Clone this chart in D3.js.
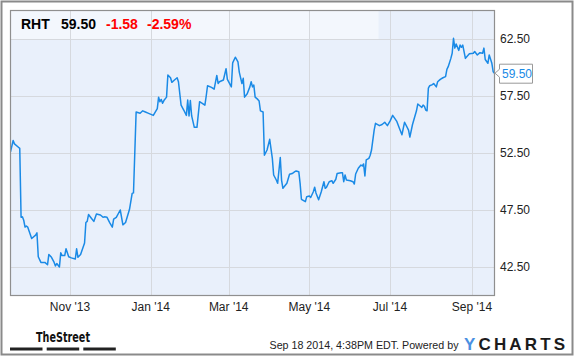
<!DOCTYPE html>
<html><head><meta charset="utf-8">
<script src="https://cdn.jsdelivr.net/npm/d3@7"></script>
<style>html,body{margin:0;padding:0;background:#fff;}svg{display:block;font-family:"Liberation Sans",Arial,sans-serif;}</style>
</head><body>
<script>
const dates = ["2013-09-17","2013-09-19","2013-09-20","2013-09-23","2013-09-24","2013-09-25","2013-09-26","2013-09-27","2013-09-28","2013-09-29","2013-09-30","2013-10-03","2013-10-06","2013-10-07","2013-10-08","2013-10-10","2013-10-13","2013-10-15","2013-10-16","2013-10-18","2013-10-20","2013-10-21","2013-10-22","2013-10-24","2013-10-25","2013-10-26","2013-10-28","2013-10-29","2013-10-31","2013-11-02","2013-11-05","2013-11-06","2013-11-07","2013-11-09","2013-11-12","2013-11-13","2013-11-14","2013-11-15","2013-11-17","2013-11-19","2013-11-21","2013-11-24","2013-11-26","2013-11-27","2013-11-29","2013-12-01","2013-12-03","2013-12-04","2013-12-06","2013-12-09","2013-12-11","2013-12-13","2013-12-16","2013-12-18","2013-12-19","2013-12-21","2013-12-24","2013-12-26","2013-12-28","2013-12-30","2014-01-03","2014-01-04","2014-01-06","2014-01-07","2014-01-08","2014-01-09","2014-01-10","2014-01-11","2014-01-13","2014-01-14","2014-01-16","2014-01-17","2014-01-19","2014-01-21","2014-01-22","2014-01-24","2014-01-26","2014-01-28","2014-01-29","2014-01-30","2014-01-31","2014-02-01","2014-02-03","2014-02-05","2014-02-07","2014-02-09","2014-02-11","2014-02-12","2014-02-13","2014-02-16","2014-02-18","2014-02-20","2014-02-21","2014-02-22","2014-02-25","2014-02-27","2014-02-28","2014-03-03","2014-03-04","2014-03-06","2014-03-08","2014-03-09","2014-03-11","2014-03-12","2014-03-13","2014-03-15","2014-03-17","2014-03-18","2014-03-19","2014-03-20","2014-03-21","2014-03-23","2014-03-24","2014-03-25","2014-03-27","2014-03-28","2014-03-30","2014-04-01","2014-04-03","2014-04-04","2014-04-06","2014-04-07","2014-04-09","2014-04-10","2014-04-11","2014-04-14","2014-04-16","2014-04-18","2014-04-20","2014-04-21","2014-04-23","2014-04-24","2014-04-25","2014-04-27","2014-04-28","2014-04-29","2014-05-01","2014-05-02","2014-05-04","2014-05-05","2014-05-06","2014-05-08","2014-05-10","2014-05-12","2014-05-13","2014-05-14","2014-05-16","2014-05-18","2014-05-19","2014-05-21","2014-05-22","2014-05-25","2014-05-26","2014-05-27","2014-05-28","2014-05-29","2014-06-01","2014-06-03","2014-06-04","2014-06-05","2014-06-07","2014-06-09","2014-06-10","2014-06-11","2014-06-12","2014-06-13","2014-06-15","2014-06-16","2014-06-17","2014-06-19","2014-06-20","2014-06-23","2014-06-25","2014-06-27","2014-06-29","2014-07-01","2014-07-03","2014-07-06","2014-07-08","2014-07-10","2014-07-12","2014-07-15","2014-07-16","2014-07-18","2014-07-21","2014-07-22","2014-07-24","2014-07-25","2014-07-26","2014-07-27","2014-07-28","2014-07-29","2014-07-30","2014-07-31","2014-08-02","2014-08-03","2014-08-05","2014-08-06","2014-08-08","2014-08-10","2014-08-12","2014-08-13","2014-08-14","2014-08-16","2014-08-17","2014-08-18","2014-08-19","2014-08-20","2014-08-22","2014-08-23","2014-08-24","2014-08-25","2014-08-27","2014-08-28","2014-08-30","2014-09-02","2014-09-03","2014-09-05","2014-09-07","2014-09-09","2014-09-10","2014-09-11","2014-09-13","2014-09-14","2014-09-16","2014-09-17","2014-09-18"];
const prices = [52.6,53.6,53.3,53.0,52.9,46.86,46.9,46.6,46.0,46.1,46.0,45.0,45.3,45.5,43.4,42.9,42.9,42.7,43.6,43.35,42.9,42.6,42.8,42.5,43.75,43.5,43.5,44.1,43.4,43.3,43.2,44.1,43.35,43.6,44.6,46.4,46.5,47.1,46.8,46.5,47.15,47.06,46.86,46.9,46.86,46.4,46.0,46.7,46.86,47.5,46.2,46.4,47.56,48.96,49.0,56.1,55.98,56.2,56.1,56.0,55.8,56.0,56.4,57.4,57.0,57.2,56.86,57.1,57.4,59.34,59.1,58.7,58.9,59.1,58.75,56.7,56.27,55.8,57.15,55.75,57.1,55.75,54.75,54.75,57.0,56.86,56.7,57.5,58.4,58.26,58.1,59.3,58.6,58.75,58.9,59.9,58.96,58.3,60.4,60.9,60.5,59.6,58.6,59.05,57.4,57.7,58.3,58.75,58.3,58.46,57.4,57.2,57.06,56.2,56.1,52.3,52.76,53.7,52.03,50.57,50.13,49.84,52.1,50.1,49.4,49.84,50.63,50.7,50.86,50.92,50.86,49.84,48.44,48.3,48.23,48.67,48.73,48.6,49.1,49.5,49.0,48.4,49.1,49.98,49.4,49.5,49.98,50.07,49.84,50.2,50.7,50.77,50.77,49.98,50.57,50.13,50.07,49.98,49.78,50.66,51.16,51.45,51.36,51.54,50.48,51.9,52.03,52.3,52.76,54.5,55.1,54.9,55.0,55.2,54.9,55.3,55.8,55.3,54.7,54.1,55.2,54.5,53.9,55.0,56.2,56.8,56.6,56.5,56.7,56.6,56.27,56.2,58.2,58.4,58.5,58.6,58.3,58.75,58.96,59.1,59.2,59.84,60.07,60.8,61.25,62.56,61.7,62.06,61.5,61.97,61.77,61.97,60.8,60.95,61.2,61.25,61.4,61.1,61.3,61.25,61.7,60.7,60.37,61.1,60.37,59.63,59.5];
const yTicks = [42.5, 47.5, 52.5, 57.5, 62.5];
const xTickDates = ["2013-11-01","2014-01-01","2014-03-01","2014-05-01","2014-07-01","2014-09-01"];
const xTickLabels = ["Nov '13","Jan '14","Mar '14","May '14","Jul '14","Sep '14"];
const ticker = "RHT", lastPrice = "59.50", change = "-1.58", changePct = "-2.59%";
const footerText = "Sep 18 2014, 4:38PM EDT. Powered by";

const W = 575, H = 358;
const parse = d3.timeParse("%Y-%m-%d");
const data = dates.map((d,i)=>({date:parse(d), v:prices[i]}));
const svg = d3.select("body").append("svg").attr("width",W).attr("height",H);

const L = 10.5, R = 494.5, T = 10.5, B = 295.5;
const x = d3.scaleTime().domain([parse("2013-09-17"), parse("2014-09-18")]).range([L, R]);
const y = d3.scaleLinear().domain([40, 65]).range([B, T]);

// outer border
svg.append("rect").attr("x",1.5).attr("y",1.5).attr("width",W-4).attr("height",H-5)
  .attr("fill","#fff").attr("stroke","#8a8a8a").attr("stroke-width",2);

// plot background
svg.append("rect").attr("x",L).attr("y",T).attr("width",R-L).attr("height",B-T).attr("fill","#e9f0fb");
// header band
svg.append("rect").attr("x",L).attr("y",T).attr("width",368).attr("height",y(62.5)-T).attr("fill","#f3f7fd");

// grid
const g = svg.append("g");
g.selectAll(".hg").data(yTicks).join("line")
  .attr("x1",L).attr("x2",R).attr("y1",d=>Math.round(y(d))+0.5).attr("y2",d=>Math.round(y(d))+0.5)
  .attr("stroke","#d6d9de").attr("stroke-width",1);
g.selectAll(".vg").data(xTickDates).join("line")
  .attr("x1",d=>Math.round(x(parse(d)))+0.5).attr("x2",d=>Math.round(x(parse(d)))+0.5).attr("y1",T).attr("y2",B)
  .attr("stroke","#d6d9de").attr("stroke-width",1);

// line
const clip = svg.append("clipPath").attr("id","clip").append("rect").attr("x",L).attr("y",T).attr("width",R-L).attr("height",B-T);
svg.append("path").datum(data).attr("clip-path","url(#clip)")
  .attr("d", d3.line().x(d=>x(d.date)).y(d=>y(d.v)))
  .attr("fill","none").attr("stroke","#1a8ae6").attr("stroke-width",1.5).attr("stroke-linejoin","round");

// plot border
svg.append("rect").attr("x",L).attr("y",T).attr("width",R-L).attr("height",B-T)
  .attr("fill","none").attr("stroke","#8f8f8f").attr("stroke-width",1.2);

// y labels
svg.selectAll(".yl").data(yTicks).join("text")
  .attr("x",500).attr("y",d=>y(d)+4).attr("font-size",12).attr("fill","#222")
  .text(d=>d3.format(".2f")(d));

// x labels
svg.selectAll(".xl").data(xTickDates).join("text")
  .attr("x",d=>x(parse(d))).attr("y",311).attr("text-anchor","middle").attr("font-size",12).attr("fill","#222")
  .text((d,i)=>xTickLabels[i]);

// header
const hdr = svg.append("g").attr("font-size",14).attr("font-weight","bold");
hdr.append("text").attr("x",21).attr("y",28.5).attr("fill","#000").text(ticker);
hdr.append("text").attr("x",61).attr("y",28.5).attr("fill","#000").text(lastPrice);
hdr.append("text").attr("x",106).attr("y",28.5).attr("fill","#f00").text(change);
hdr.append("text").attr("x",147).attr("y",28.5).attr("fill","#f00").text(changePct);

// last value callout
const last = data[data.length-1];
const cy = y(last.v);
svg.append("path")
  .attr("d",`M${R+0.5},${cy} L${499.5},${cy-4} L${499.5},${cy-9} L${532.5},${cy-9} L${532.5},${cy+10} L${499.5},${cy+10} L${499.5},${cy+4} Z`)
  .attr("fill","#fff").attr("stroke","#999").attr("stroke-width",1);
svg.append("text").attr("x",502).attr("y",cy+5).attr("font-size",12).attr("fill","#1a8ae6").text(d3.format(".2f")(last.v));

// footer: TheStreet
svg.append("text").attr("x",36).attr("y",341.5).attr("font-family","'DejaVu Sans Condensed','DejaVu Sans',sans-serif")
  .attr("font-weight","bold").attr("font-size",14).attr("textLength",54).attr("lengthAdjust","spacingAndGlyphs")
  .attr("fill","#111").text("TheStreet");
svg.selectAll(".bar").data([10,46.7,83.3]).join("rect")
  .attr("x",d=>d).attr("y",347.5).attr("width",32.5).attr("height",3).attr("fill","#222");

svg.append("text").attr("x",269.5).attr("y",348.5).attr("font-size",11).attr("fill","#222")
  .attr("textLength",189).attr("lengthAdjust","spacingAndGlyphs").text(footerText);
const yc = svg.append("text").attr("x",464).attr("y",350).attr("font-size",17).attr("font-weight","bold")
  .attr("textLength",101).attr("lengthAdjust","spacing");
yc.append("tspan").attr("fill","#4a90e2").text("Y");
yc.append("tspan").attr("fill","#1b1b1b").text("CHARTS");
</script>
</body></html>
